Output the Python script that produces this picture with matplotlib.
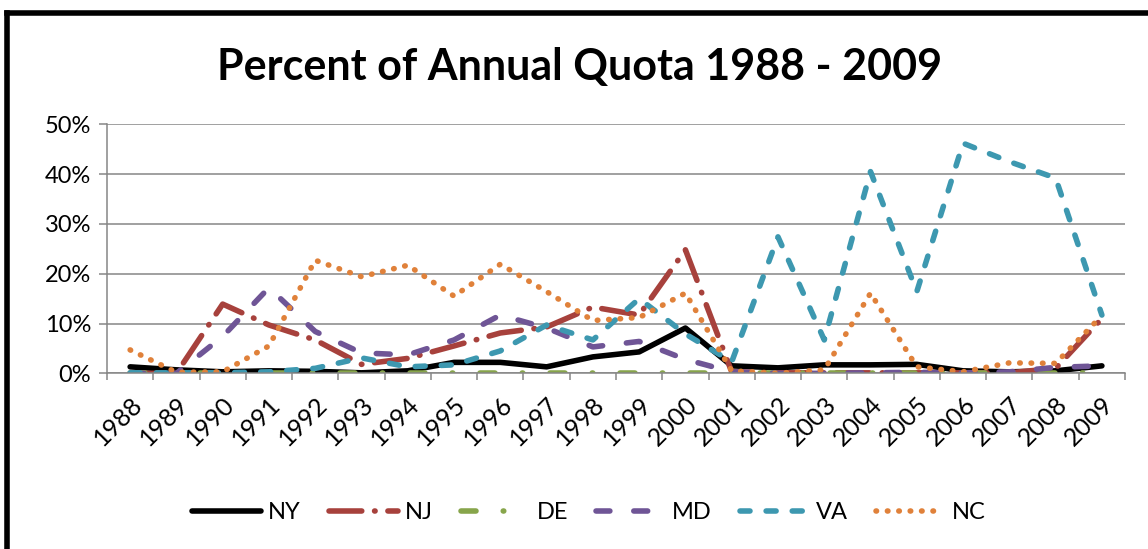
import matplotlib
matplotlib.use("Agg")
import matplotlib.pyplot as plt
from matplotlib.lines import Line2D
from matplotlib.ticker import FuncFormatter

# values (percent of annual quota)
years = [str(y) for y in range(1988, 2010)]
ny = [1.3, 0.7, 0.3, 0.5, 0.4, 0.1, 0.5, 2.2, 2.2, 1.3, 3.3, 4.3, 9.1, 1.5, 1.1, 1.7, 1.7, 1.8, 0.5, 0.3, 0.5, 1.5]
nj = [0.0, 0.0, 13.9, 9.7, 6.7, 1.8, 3.0, 5.5, 8.1, 9.3, 13.3, 11.7, 24.8, 0.3, 0.1, 0.1, 0.1, 0.1, 0.1, 0.1, 1.0, 11.0]
de = [0.0, 0.0, 0.0, 0.0, 0.0, 0.0, 0.0, 0.0, 0.0, 0.0, 0.0, 0.0, 0.0, 0.0, 0.0, 0.0, 0.0, 0.0, 0.0, 0.0, 0.0, 0.0]
md = [0.0, 0.0, 7.4, 17.2, 8.4, 4.1, 3.7, 6.7, 11.7, 9.1, 5.3, 6.4, 2.8, 0.3, 0.0, 0.0, 0.1, 0.2, 0.1, 0.3, 1.2, 1.5]
va = [0.1, 0.1, 0.1, 0.3, 1.0, 3.1, 1.3, 1.7, 4.5, 9.7, 6.7, 15.0, 7.9, 2.3, 27.4, 6.7, 40.5, 16.4, 46.2, 42.5, 39.2, 11.7]
nc = [4.7, 0.2, 0.3, 5.5, 22.7, 19.4, 21.7, 15.5, 21.9, 16.4, 10.6, 11.2, 16.1, 0.5, 0.0, 0.7, 16.1, 1.3, 0.3, 2.1, 2.0, 11.6]
yticks = [0, 10, 20, 30, 40, 50]

plt.rcParams['font.family'] = ['Lato', 'DejaVu Sans']

fig = plt.figure(figsize=(11.48, 5.49), dpi=100)
ax = fig.add_axes([0.0932, 0.32, 0.8868, 0.4536])

lw = 4.0
x = list(range(len(years)))
series = [
    ("NY", ny, "#000000", "-"),
    ("NJ", nj, "#A7413C", (0, (5.9, 2.3, 0.1, 2.3))),
    ("DE", de, "#87A54B", (0, (2.7, 4.9, 0.1, 4.9))),
    ("MD", md, "#6F5596", (0, (2.5, 4.3))),
    ("VA", va, "#3D98B0", (0, (1.8, 2.9))),
    ("NC", nc, "#E0813A", (0, (0.1, 1.95))),
]
for name, vals, col, ls in series:
    ax.plot(x, vals, color=col, lw=lw, linestyle=ls, label=name,
            dash_capstyle="round", solid_capstyle="round", solid_joinstyle="round")

gray = "#868686"
ax.set_xlim(-0.5, len(years) - 0.5)
ax.set_ylim(0, 50)
ax.set_yticks(yticks)
ax.yaxis.set_major_formatter(FuncFormatter(lambda v, p: f"{v:.0f}%"))
ax.grid(axis="y", color=gray, lw=1.1)
ax.set_axisbelow(True)
for s in ["top", "right"]:
    ax.spines[s].set_visible(False)
for s in ["left", "bottom"]:
    ax.spines[s].set_color(gray)
    ax.spines[s].set_linewidth(1.1)

# category ticks between years, labels at centres
ax.set_xticks(x)
ax.set_xticklabels(years, rotation=45, ha="right", rotation_mode="anchor")
ax.set_xticks([i - 0.5 for i in range(len(years) + 1)], minor=True)
ax.tick_params(axis="x", which="major", length=0, pad=14, labelsize=18)
ax.tick_params(axis="x", which="minor", length=5, color=gray, width=1.1)
ax.tick_params(axis="y", length=5.5, color=gray, width=1.1, labelsize=17, pad=6)

fig.text(0.505, 0.878, "Percent of Annual Quota 1988 - 2009", ha="center", va="center",
         fontsize=31, fontweight="bold")

fig.legend(loc="center", bbox_to_anchor=(0.513, 0.066), ncol=6, frameon=False,
           fontsize=17, handlelength=2.9, handletextpad=0.3, columnspacing=1.2)

# outer chart border (cut off at right and bottom)
fig.add_artist(Line2D([0.0061, 0.0061], [-0.1, 1 - 12.5 / 549], color="black", lw=4,
                      transform=fig.transFigure, solid_capstyle="projecting"))
fig.add_artist(Line2D([0.0061, 1.1], [1 - 12.5 / 549, 1 - 12.5 / 549], color="black", lw=4,
                      transform=fig.transFigure, solid_capstyle="projecting"))

fig.savefig("out.png", dpi=100, facecolor="white")
